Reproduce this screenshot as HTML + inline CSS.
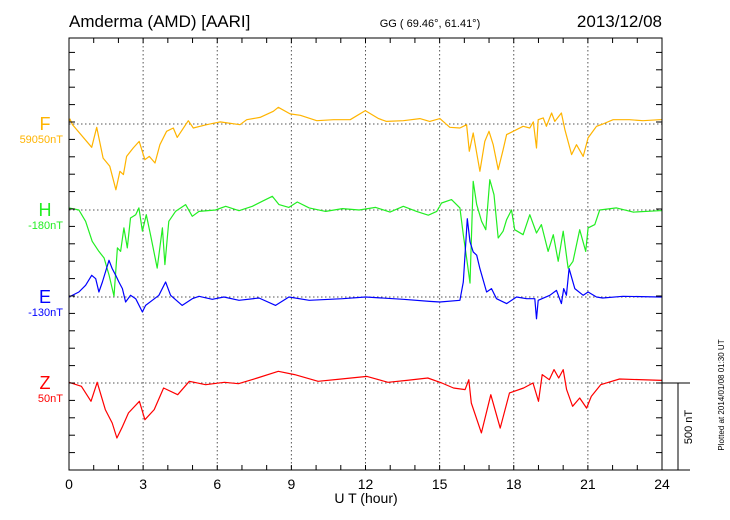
<!DOCTYPE html>
<html><head><meta charset="utf-8"><style>
body{margin:0;background:#fff;}
svg{display:block;font-family:"Liberation Sans",sans-serif;}
</style></head><body>
<svg id="chart" width="730" height="520" viewBox="0 0 730 520">
<text x="69" y="27" font-size="17">Amderma (AMD)  [AARI]</text>
<text x="430" y="27" font-size="11" text-anchor="middle">GG ( 69.46°,  61.41°)</text>
<text x="662" y="27" font-size="17" text-anchor="end">2013/12/08</text>
<text x="366" y="503" font-size="14" text-anchor="middle">U T (hour)</text>
<text transform="translate(692,427) rotate(-90)" font-size="11" text-anchor="middle">500 nT</text>
<text transform="translate(724,395) rotate(-90)" font-size="8" text-anchor="middle">Plotted at 2014/01/08 01:30 UT</text>
<g id="grid"></g><g id="series"></g><g id="axes"></g>
</svg>
<script>
const hours=[0,3,6,9,12,15,18,21,24];
const components=["F","H","E","Z"];
const baselineLabels=["59050nT","-180nT","-130nT","50nT"];
const fT=[0,0.04,0.14,0.92,1.12,1.38,1.65,1.9,2.06,2.2,2.33,2.6,2.84,3.07,3.25,3.48,3.68,3.95,4.22,4.38,4.83,5.03,5.57,6.11,6.92,7.19,7.73,8.27,8.47,8.95,9.36,10.03,10.71,11.38,11.99,12.53,12.85,13.53,14.2,14.6,15.01,15.41,15.82,16.09,16.2,16.36,16.63,16.83,17.0,17.17,17.37,17.57,17.71,18.04,18.38,18.65,18.79,18.92,18.99,19.19,19.32,19.53,19.66,19.93,20.07,20.34,20.54,20.81,21.01,21.35,21.61,22.02,22.69,23.23,23.9,24];
const fV=[15,28,-4,-134,-19,-196,-243,-378,-272,-291,-186,-138,-100,-205,-186,-224,-119,-42,-23,-77,19,-23,-4,12,-4,25,38,73,96,58,50,19,25,25,77,31,15,19,31,15,31,-19,-23,-4,-157,-52,-272,-100,-42,-119,-262,-148,-61,-38,-13,-23,12,-138,25,35,-13,63,15,63,-33,-176,-119,-186,-80,-13,0,25,25,19,25,25];
const hT=[0,0.4,0.67,0.94,1.21,1.42,1.62,1.82,1.96,2.09,2.22,2.36,2.49,2.7,2.83,2.97,3.13,3.3,3.57,3.78,3.88,4.04,4.31,4.72,4.99,5.26,5.93,6.34,6.88,7.42,7.82,8.23,8.5,8.9,9.24,9.72,10.39,11.07,11.74,12.41,12.99,13.53,14.07,14.54,14.88,15.08,15.48,15.82,15.96,16.09,16.23,16.36,16.5,16.7,16.87,17.03,17.2,17.37,17.57,17.71,17.91,18.04,18.38,18.65,18.92,19.12,19.39,19.6,19.8,20.0,20.2,20.4,20.67,20.91,21.01,21.28,21.48,22.16,22.83,23.9,24];
const hV=[12,0,-65,-180,-238,-276,-373,-495,-218,-238,-103,-218,-46,-27,12,-122,-27,-142,-334,-103,-314,-65,-8,31,-36,-8,0,21,-4,21,50,79,31,15,46,12,-8,8,0,15,-12,21,-8,-30,-8,40,60,12,-142,-276,-420,165,31,-65,-113,174,88,-161,-122,-56,0,-113,-142,-27,-132,-84,-238,-142,-295,-122,-334,-295,-113,-238,-103,-84,0,12,-12,-4,-4];
const eT=[0,0.4,0.67,0.92,1.08,1.21,1.35,1.62,1.75,1.89,2.02,2.16,2.29,2.49,2.7,2.97,3.1,3.37,3.64,3.91,4.11,4.58,4.99,5.26,5.8,6.27,6.88,7.69,8.36,8.9,9.72,11.07,12.0,13.53,14.6,15.01,15.82,15.96,16.12,16.23,16.36,16.5,16.63,16.9,17.1,17.3,17.71,18.11,18.52,18.85,18.92,18.99,19.46,19.73,19.93,20.02,20.13,20.24,20.47,20.81,21.01,21.35,21.6,22.42,23.9,24];
const eV=[0,29,67,125,105,29,86,211,163,125,86,48,-29,10,-10,-86,-48,-19,10,86,10,-48,-10,4,-13,0,-19,-6,-48,0,-19,-10,0,-13,-25,-29,-19,86,450,317,259,240,163,29,48,-10,-38,0,-10,-10,-125,-19,10,38,-38,48,10,163,48,10,29,0,-6,4,0,0];
const zT=[0,0.5,0.89,1.14,1.47,1.75,1.94,2.17,2.41,2.85,3.07,3.45,3.83,4.4,4.87,5.53,6.29,6.86,7.62,8.47,9.13,10.08,11.02,12.06,12.91,13.67,14.52,15.09,15.56,16.03,16.18,16.28,16.69,17.07,17.45,17.83,18.4,18.78,19.0,19.15,19.44,19.63,19.82,20.0,20.14,20.38,20.67,20.95,21.14,21.52,22.28,24];
const zV=[4,-19,-105,4,-153,-230,-316,-249,-172,-105,-211,-153,-29,-67,10,-10,4,-4,29,67,48,10,23,38,4,15,29,0,-29,-38,19,-115,-287,-67,-259,-57,-29,0,-105,48,19,77,29,77,-38,-134,-86,-144,-77,-10,23,15];
const X0=69,X1=662,Y0=38,Y1=470;
const baselines=[124,210,297,383];
const colors=["#ffb400","#22ee22","#0000ff","#ff0000"];
const pxPerNT=87/500;
function xs(t){return X0+(X1-X0)*t/24;}
function ys(i,v){return baselines[i]-v*pxPerNT;}
const NS="http://www.w3.org/2000/svg";
function mk(tag,attrs,parent){const e=document.createElementNS(NS,tag);for(const k in attrs)e.setAttribute(k,attrs[k]);parent.appendChild(e);return e;}
const grid=document.getElementById('grid'),axes=document.getElementById('axes'),ser=document.getElementById('series');
hours.slice(1,-1).forEach(h=>{const l=mk('line',{x1:xs(h),x2:xs(h),y1:Y0,y2:Y1,stroke:'#555','stroke-dasharray':'1.5,2.5','stroke-width':1},grid);

});
baselines.forEach(b=>{const l=mk('line',{x1:X0,x2:X1,y1:b,y2:b,stroke:'#555','stroke-dasharray':'1.5,2.5','stroke-width':1},grid);

});
const data=[[fT,fV],[hT,hV],[eT,eV],[zT,zV]];
data.forEach((d,i)=>{const pts=d[0].map((t,j)=>xs(t).toFixed(1)+','+ys(i,d[1][j]).toFixed(1)).join(' ');
const p=mk('polyline',{points:pts,fill:'none',stroke:colors[i],'stroke-width':1.2,'stroke-linejoin':'round'},ser);


const t1=mk('text',{x:45,y:baselines[i]+6,'font-size':18,fill:colors[i],'text-anchor':'middle'},axes);t1.textContent=components[i];


const t2=mk('text',{x:63,y:baselines[i]+19,'font-size':11,fill:colors[i],'text-anchor':'end'},axes);t2.textContent=baselineLabels[i];

});
const fr=mk('rect',{x:X0,y:Y0,width:X1-X0,height:Y1-Y0,fill:'none',stroke:'#000','stroke-width':1},axes);


for(let h=0;h<=24;h++){const x=xs(h);mk('line',{x1:x,x2:x,y1:Y1,y2:Y1-5,stroke:'#000'},axes);mk('line',{x1:x,x2:x,y1:Y0,y2:Y0+5,stroke:'#000'},axes);}
for(let k=0;k<=24;k++){const y=Y1-k*100*pxPerNT;if(y<Y0)break;mk('line',{x1:X0,x2:X0+6,y1:y,y2:y,stroke:'#000'},axes);mk('line',{x1:X1,x2:X1-6,y1:y,y2:y,stroke:'#000'},axes);}
hours.forEach(h=>{const t=mk('text',{x:xs(h),y:489,'font-size':14,'text-anchor':'middle'},axes);t.textContent=h;

});
mk('line',{x1:X1,x2:690,y1:383,y2:383,stroke:'#000'},axes);
const sb=mk('line',{x1:678,x2:678,y1:383,y2:470,stroke:'#000'},axes);


mk('line',{x1:X1,x2:690,y1:470,y2:470,stroke:'#000'},axes);
</script>
</body></html>
